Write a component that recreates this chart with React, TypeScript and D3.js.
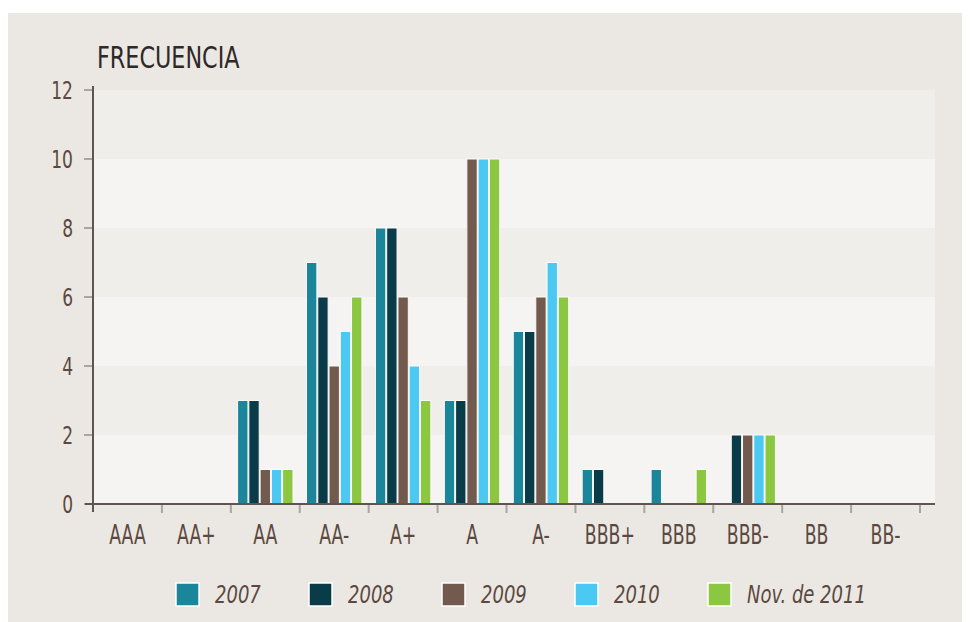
import React from 'react';
import * as d3 from 'd3';

const categories = ['AAA', 'AA+', 'AA', 'AA-', 'A+', 'A', 'A-', 'BBB+', 'BBB', 'BBB-', 'BB', 'BB-'];
const seriesNames = ['2007', '2008', '2009', '2010', 'Nov. de 2011'];
const v2007 = [0, 0, 3, 7, 8, 3, 5, 1, 1, 0, 0, 0];
const v2008 = [0, 0, 3, 6, 8, 3, 5, 1, 0, 2, 0, 0];
const v2009 = [0, 0, 1, 4, 6, 10, 6, 0, 0, 2, 0, 0];
const v2010 = [0, 0, 1, 5, 4, 10, 7, 0, 0, 2, 0, 0];
const v2011 = [0, 0, 1, 6, 3, 10, 6, 0, 1, 2, 0, 0];
const yTicks = [0, 2, 4, 6, 8, 10, 12];
const colors = ['#1b8599', '#0a3b48', '#735a4f', '#4bc9f3', '#8bc741'];

const allSeries = [v2007, v2008, v2009, v2010, v2011];

const W = 962;
const H = 609;
const font = '"DejaVu Sans Condensed", "Liberation Sans Narrow", sans-serif';
const txt = '#5b4840';

// condensed text: the original uses a narrow gothic face, so squeeze horizontally
const NarrowText = ({ x, y, sx = 0.78, anchor = 'start', size, fill = txt, italic = false, children }: any) => (
  <text transform={`translate(${x},${y}) scale(${sx},1)`} textAnchor={anchor}
    fontFamily={font} fontSize={size} fill={fill} fontStyle={italic ? 'italic' : 'normal'}>
    {children}
  </text>
);

export default function App() {
  const left = 85;
  const right = 927;
  const top = 77;
  const bottom = 491;
  const catRight = 912;

  const y = d3.scaleLinear().domain([0, 12]).range([bottom, top]);
  const x0 = d3.scaleBand<string>().domain(categories).range([left, catRight]).padding(0);
  const x1 = d3.scaleBand<string>().domain(seriesNames).range([0, x0.bandwidth()])
    .paddingInner(0.08).paddingOuter(0.6);

  const bands = d3.range(0, 12, 2);
  const legendX = d3.scaleLinear().domain([0, 4]).range([168, 700]);

  return (
    <svg width={W} height={H} style={{ display: 'block', marginTop: 5 }}>
      <rect x={0} y={0} width={W} height={H} fill="#ebe8e3" />
      {bands.map((b) => (
        <rect key={b} x={left} width={right - left} y={y(b + 2)} height={y(b) - y(b + 2)}
          fill={(b / 2) % 2 === 0 ? '#f5f4f2' : '#efeeeb'} />
      ))}
      <NarrowText x={89} y={55} size={31} sx={0.8} fill="#2e2926">FRECUENCIA</NarrowText>

      {allSeries.map((vals, si) => vals.map((v, ci) => v > 0 && (
        <rect key={si + '-' + ci}
          x={(x0(categories[ci]) as number) + (x1(seriesNames[si]) as number)}
          y={y(v)} width={x1.bandwidth()} height={y(0) - y(v)}
          fill={colors[si]} stroke="#fbfbf8" strokeWidth={1} />
      )))}

      {/* y axis */}
      <line x1={left} x2={left} y1={top - 4} y2={bottom + 8} stroke="#5e5550" strokeWidth={2} />
      {yTicks.map((t) => (
        <g key={t}>
          <line x1={left - 9} x2={left - 1} y1={y(t)} y2={y(t)} stroke="#aaa59f" strokeWidth={2} />
          <NarrowText x={left - 20} y={y(t) + 9} anchor="end" size={25} sx={0.76}>{t}</NarrowText>
        </g>
      ))}

      {/* x axis */}
      <line x1={left - 8} x2={right} y1={bottom} y2={bottom} stroke="#5e5550" strokeWidth={2} />
      {categories.map((c, i) => (
        <g key={c}>
          {i > 0 && <line x1={x0(c)} x2={x0(c)} y1={bottom + 1} y2={bottom + 9} stroke="#aaa59f" strokeWidth={2} />}
          <NarrowText x={(x0(c) as number) + x0.bandwidth() / 2} y={bottom + 40} anchor="middle"
            size={26} sx={0.74}>{c}</NarrowText>
        </g>
      ))}
      <line x1={catRight} x2={catRight} y1={bottom + 1} y2={bottom + 9} stroke="#aaa59f" strokeWidth={2} />

      {/* legend */}
      {seriesNames.map((s, i) => (
        <g key={s} transform={`translate(${legendX(i)},570)`}>
          <rect x={0} y={0} width={23} height={23} fill={colors[i]} stroke="#ffffff" strokeWidth={1.5} />
          <NarrowText x={39} y={20} size={25} sx={0.8} italic>{s}</NarrowText>
        </g>
      ))}
    </svg>
  );
}
